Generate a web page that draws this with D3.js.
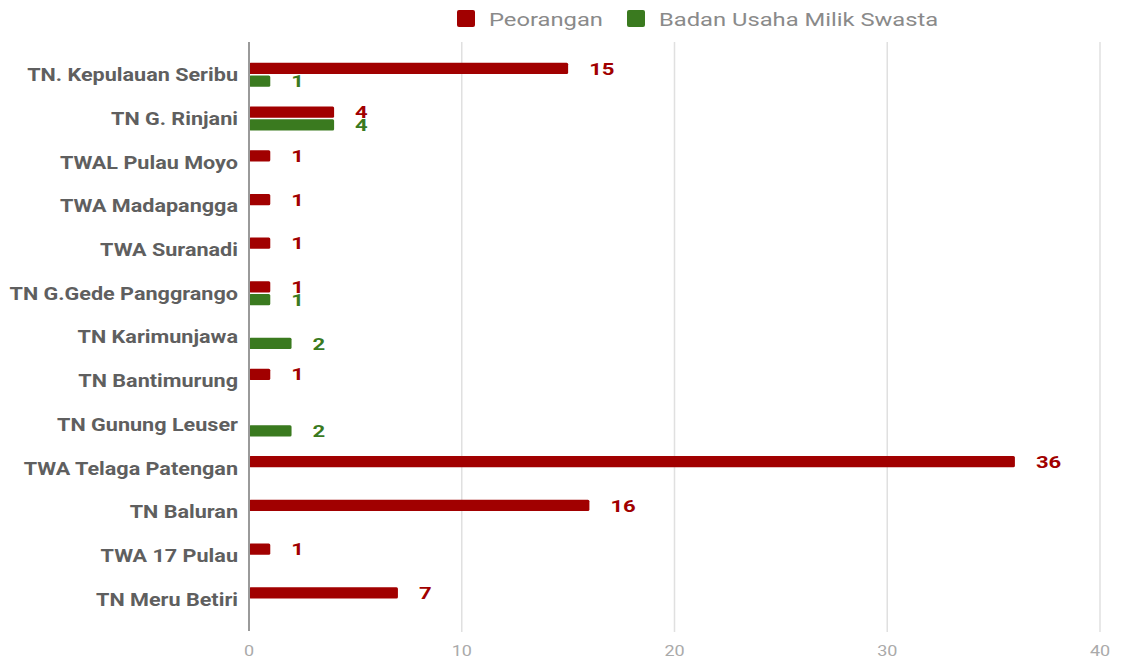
<!DOCTYPE html>
<html>
<head>
  <meta charset="utf-8">
  <script src="https://d3js.org/d3.v7.min.js"></script>
  <style>
    body { margin: 0; background: #fff; }
    text { font-family: Roboto, "Noto Sans", sans-serif; }
  </style>
</head>
<body>
  <svg width="1123" height="661"></svg>

  <script>
    // data
    const categories = [
      "TN. Kepulauan Seribu", "TN G. Rinjani", "TWAL Pulau Moyo", "TWA Madapangga",
      "TWA Suranadi", "TN G.Gede Panggrango", "TN Karimunjawa", "TN Bantimurung",
      "TN Gunung Leuser", "TWA Telaga Patengan", "TN Baluran", "TWA 17 Pulau", "TN Meru Betiri"
    ];
    const seriesNames = ["Peorangan", "Badan Usaha Milik Swasta"];
    const peorangan = [15, 4, 1, 1, 1, 1, null, 1, null, 36, 16, 1, 7];
    const swasta = [1, 4, null, null, null, 1, 2, null, 2, null, null, null, null];
    const xTicks = [0, 10, 20, 30, 40];
    const colors = ["#a10000", "#3a7a1f"];

    const svg = d3.select("svg");
    const mLeft = 249, mRight = 1100, mTop = 53, mBottom = 621;

    const x = d3.scaleLinear().domain([0, 40]).range([mLeft, mRight]);
    const y = d3.scaleBand().domain(categories).range([mTop, mBottom]);
    const inner = d3.scaleBand().domain([0, 1]).range([-12, 12]).paddingInner(0.12);

    // the picture's text is stretched sideways, so texts get a scale
    const wide = (sel, sx) => sel.attr("transform", function () {
      const t = d3.select(this);
      return "translate(" + t.attr("tx") + "," + t.attr("ty") + ") scale(" + sx + ",1)";
    });

    // grid
    svg.append("g").selectAll("line")
      .data(xTicks.slice(1))
      .enter().append("line")
      .attr("x1", d => x(d)).attr("x2", d => x(d))
      .attr("y1", 42).attr("y2", 632)
      .attr("stroke", "#e0e0e0").attr("stroke-width", 1.5);

    // tick labels
    svg.append("g").selectAll("text")
      .data(xTicks)
      .enter().append("text")
      .attr("tx", d => x(d)).attr("ty", 651)
      .attr("dy", "0.36em")
      .attr("text-anchor", "middle")
      .attr("font-size", 15)
      .attr("fill", "#aaa")
      .call(wide, 1.2)
      .text(d => d);

    // bars
    const series = [peorangan, swasta];
    series.forEach((vals, s) => {
      const g = svg.append("g");
      const rows = categories.map((c, i) => ({ c: c, v: vals[i] })).filter(d => d.v != null);
      g.selectAll("rect")
        .data(rows)
        .enter().append("rect")
        .attr("x", x(0))
        .attr("y", d => y(d.c) + y.bandwidth() / 2 + inner(s))
        .attr("width", d => x(d.v) - x(0))
        .attr("height", inner.bandwidth())
        .attr("rx", 1.5)
        .attr("fill", colors[s]);
      g.selectAll("text")
        .data(rows)
        .enter().append("text")
        .attr("tx", d => x(d.v) + 21)
        .attr("ty", d => y(d.c) + y.bandwidth() / 2 + inner(s) + inner.bandwidth() / 2)
        .attr("dy", "0.36em")
        .attr("font-size", 17)
        .attr("font-weight", "bold")
        .attr("fill", colors[s])
        .call(wide, 1.3)
        .text(d => d.v);
    });

    // zero axis line
    svg.append("line")
      .attr("x1", x(0)).attr("x2", x(0))
      .attr("y1", 42).attr("y2", 631)
      .attr("stroke", "#9a9a9a").attr("stroke-width", 2);

    // category labels
    svg.append("g").selectAll("text")
      .data(categories)
      .enter().append("text")
      .attr("tx", 238)
      .attr("ty", d => y(d) + y.bandwidth() / 2)
      .attr("dy", "0.36em")
      .attr("text-anchor", "end")
      .attr("font-size", 18)
      .attr("font-weight", "bold")
      .attr("fill", "#5f5f5f")
      .call(wide, 1.2)
      .text(d => d);

    // legend
    const legendX = [457, 627];
    const lg = svg.append("g").selectAll("g")
      .data(seriesNames)
      .enter().append("g")
      .attr("transform", (d, i) => "translate(" + legendX[i] + ",19)");
    lg.append("rect")
      .attr("x", 0).attr("y", -9)
      .attr("width", 18).attr("height", 17)
      .attr("rx", 2)
      .attr("fill", (d, i) => colors[i]);
    lg.append("text")
      .attr("tx", 32).attr("ty", 0)
      .attr("dy", "0.36em")
      .attr("font-size", 19)
      .attr("fill", "#8a8a8a")
      .call(wide, 1.25)
      .text(d => d);
  </script>
</body>
</html>
